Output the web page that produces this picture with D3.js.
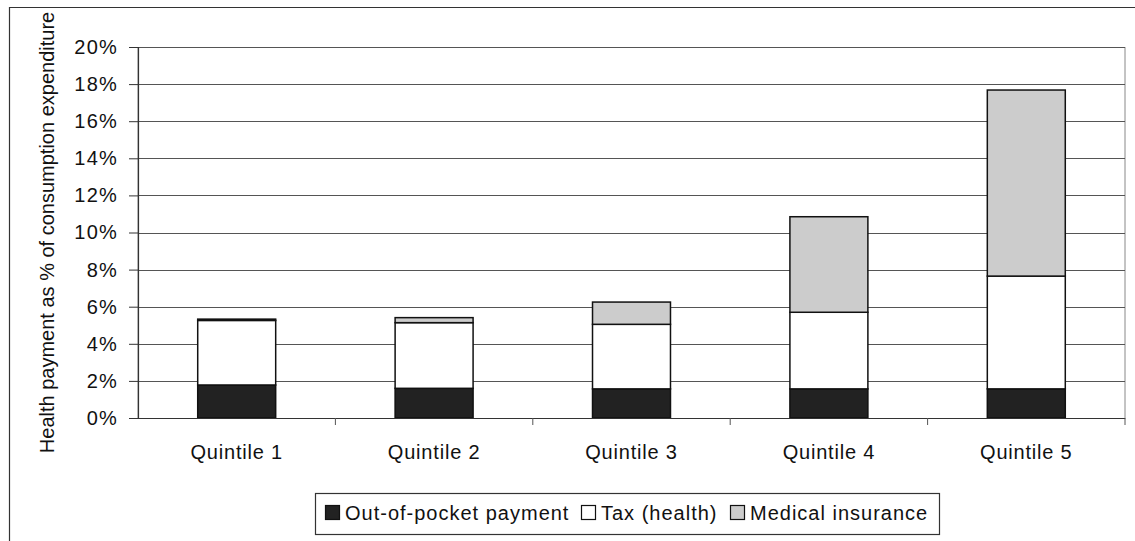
<!DOCTYPE html>
<html>
<head>
<meta charset="utf-8">
<script src="https://cdn.jsdelivr.net/npm/d3@7"></script>
<style>
  html, body { margin: 0; padding: 0; background: #fff; }
  svg { display: block; }
  text { font-family: "Liberation Sans", Arial, sans-serif; fill: #111; }
</style>
</head>
<body>
<svg id="chart" width="1135" height="541"></svg>
<script>
// Health payments by consumption quintile, % of consumption expenditure
const quintiles = ["Quintile 1", "Quintile 2", "Quintile 3", "Quintile 4", "Quintile 5"];
const outOfPocket = [1.78, 1.60, 1.57, 1.57, 1.57];
const taxHealth = [3.48, 3.54, 3.48, 4.13, 6.08];
const medicalInsurance = [0.07, 0.27, 1.20, 5.15, 10.03];
const yTicks = [0, 2, 4, 6, 8, 10, 12, 14, 16, 18, 20];
const seriesNames = ["Out-of-pocket payment", "Tax (health)", "Medical insurance"];
const seriesColors = ["#222222", "#ffffff", "#cccccc"];
const yTitle = "Health payment as % of consumption expenditure";

const svg = d3.select("#chart");
const plot = { left: 138, right: 1125, top: 47, bottom: 418 };

const x = d3.scaleBand().domain(quintiles).range([plot.left, plot.right]).padding(0);
const y = d3.scaleLinear().domain([0, 20]).range([plot.bottom, plot.top]);
const barW = x.bandwidth() * 0.395;

// outer chart frame (left and top edges)
svg.append("path")
  .attr("d", `M9.5,541 V7.5 H1135`)
  .attr("fill", "none").attr("stroke", "#333").attr("stroke-width", 1.2);

// plot area border
svg.append("rect")
  .attr("x", plot.left).attr("y", plot.top + 0.5)
  .attr("width", plot.right - plot.left).attr("height", plot.bottom - plot.top)
  .attr("fill", "none").attr("stroke", "#888").attr("stroke-width", 1);

// horizontal gridlines
svg.append("g").selectAll("line").data(yTicks.filter(d => d > 0)).join("line")
  .attr("x1", plot.left).attr("x2", plot.right)
  .attr("y1", d => Math.round(y(d)) + 0.5).attr("y2", d => Math.round(y(d)) + 0.5)
  .attr("stroke", "#555").attr("stroke-width", 1);

// stacked data
const rows = quintiles.map((q, i) => ({
  q, oop: outOfPocket[i], tax: taxHealth[i], med: medicalInsurance[i]
}));
const stack = d3.stack().keys(["oop", "tax", "med"]);
const layers = stack(rows);

svg.append("g").selectAll("g").data(layers).join("g")
  .attr("fill", (d, i) => seriesColors[i])
  .selectAll("rect").data(d => d).join("rect")
  .attr("x", d => x(d.data.q) + (x.bandwidth() - barW) / 2)
  .attr("width", barW)
  .attr("y", d => y(d[1]))
  .attr("height", d => y(d[0]) - y(d[1]))
  .attr("stroke", "#111").attr("stroke-width", 1.5);

// y axis
const yAxis = d3.axisLeft(y).tickValues(yTicks).tickFormat(d => d + "%").tickSize(9).tickPadding(11);
const gy = svg.append("g").attr("transform", `translate(${plot.left},0)`).call(yAxis);
gy.select(".domain").attr("stroke", "#333").attr("stroke-width", 1.2);
gy.selectAll(".tick line").attr("stroke", "#333");
gy.selectAll(".tick text")
  .attr("font-size", 20).attr("letter-spacing", 1.2)
  .attr("font-family", "'Liberation Sans', Arial, sans-serif").attr("fill", "#111");

// x axis (ticks at band boundaries)
const gx = svg.append("g").attr("transform", `translate(0,${plot.bottom})`);
gx.append("line").attr("x1", plot.left).attr("x2", plot.right)
  .attr("y1", 0.5).attr("y2", 0.5).attr("stroke", "#333").attr("stroke-width", 1.2);
gx.selectAll("line.tk").data(quintiles.slice(1).concat(["end"])).join("line")
  .attr("class", "tk")
  .attr("x1", d => d === "end" ? plot.right : x(d)).attr("x2", d => d === "end" ? plot.right : x(d))
  .attr("y1", 0).attr("y2", 7).attr("stroke", "#555");
gx.selectAll("text").data(quintiles).join("text")
  .attr("x", d => x(d) + x.bandwidth() / 2)
  .attr("y", 41)
  .attr("text-anchor", "middle")
  .attr("font-size", 20).attr("letter-spacing", 0.8)
  .text(d => d);

// y axis title
svg.append("text")
  .attr("transform", `translate(54,${(plot.top + plot.bottom) / 2}) rotate(-90)`)
  .attr("text-anchor", "middle")
  .attr("font-size", 20).attr("letter-spacing", 0)
  .text(yTitle);

// legend
const legend = svg.append("g");
legend.append("rect")
  .attr("x", 315.5).attr("y", 493.5).attr("width", 624).attr("height", 41)
  .attr("fill", "#fff").attr("stroke", "#333").attr("stroke-width", 1.2);
const legendX = [325, 581, 730];
seriesNames.forEach((name, i) => {
  legend.append("rect")
    .attr("x", legendX[i] + 0.5).attr("y", 505.5).attr("width", 14).attr("height", 14)
    .attr("fill", seriesColors[i]).attr("stroke", "#111").attr("stroke-width", 1.2);
  legend.append("text")
    .attr("x", legendX[i] + 20).attr("y", 520)
    .attr("font-size", 20).attr("letter-spacing", 1.0)
    .text(name);
});
</script>
</body>
</html>
